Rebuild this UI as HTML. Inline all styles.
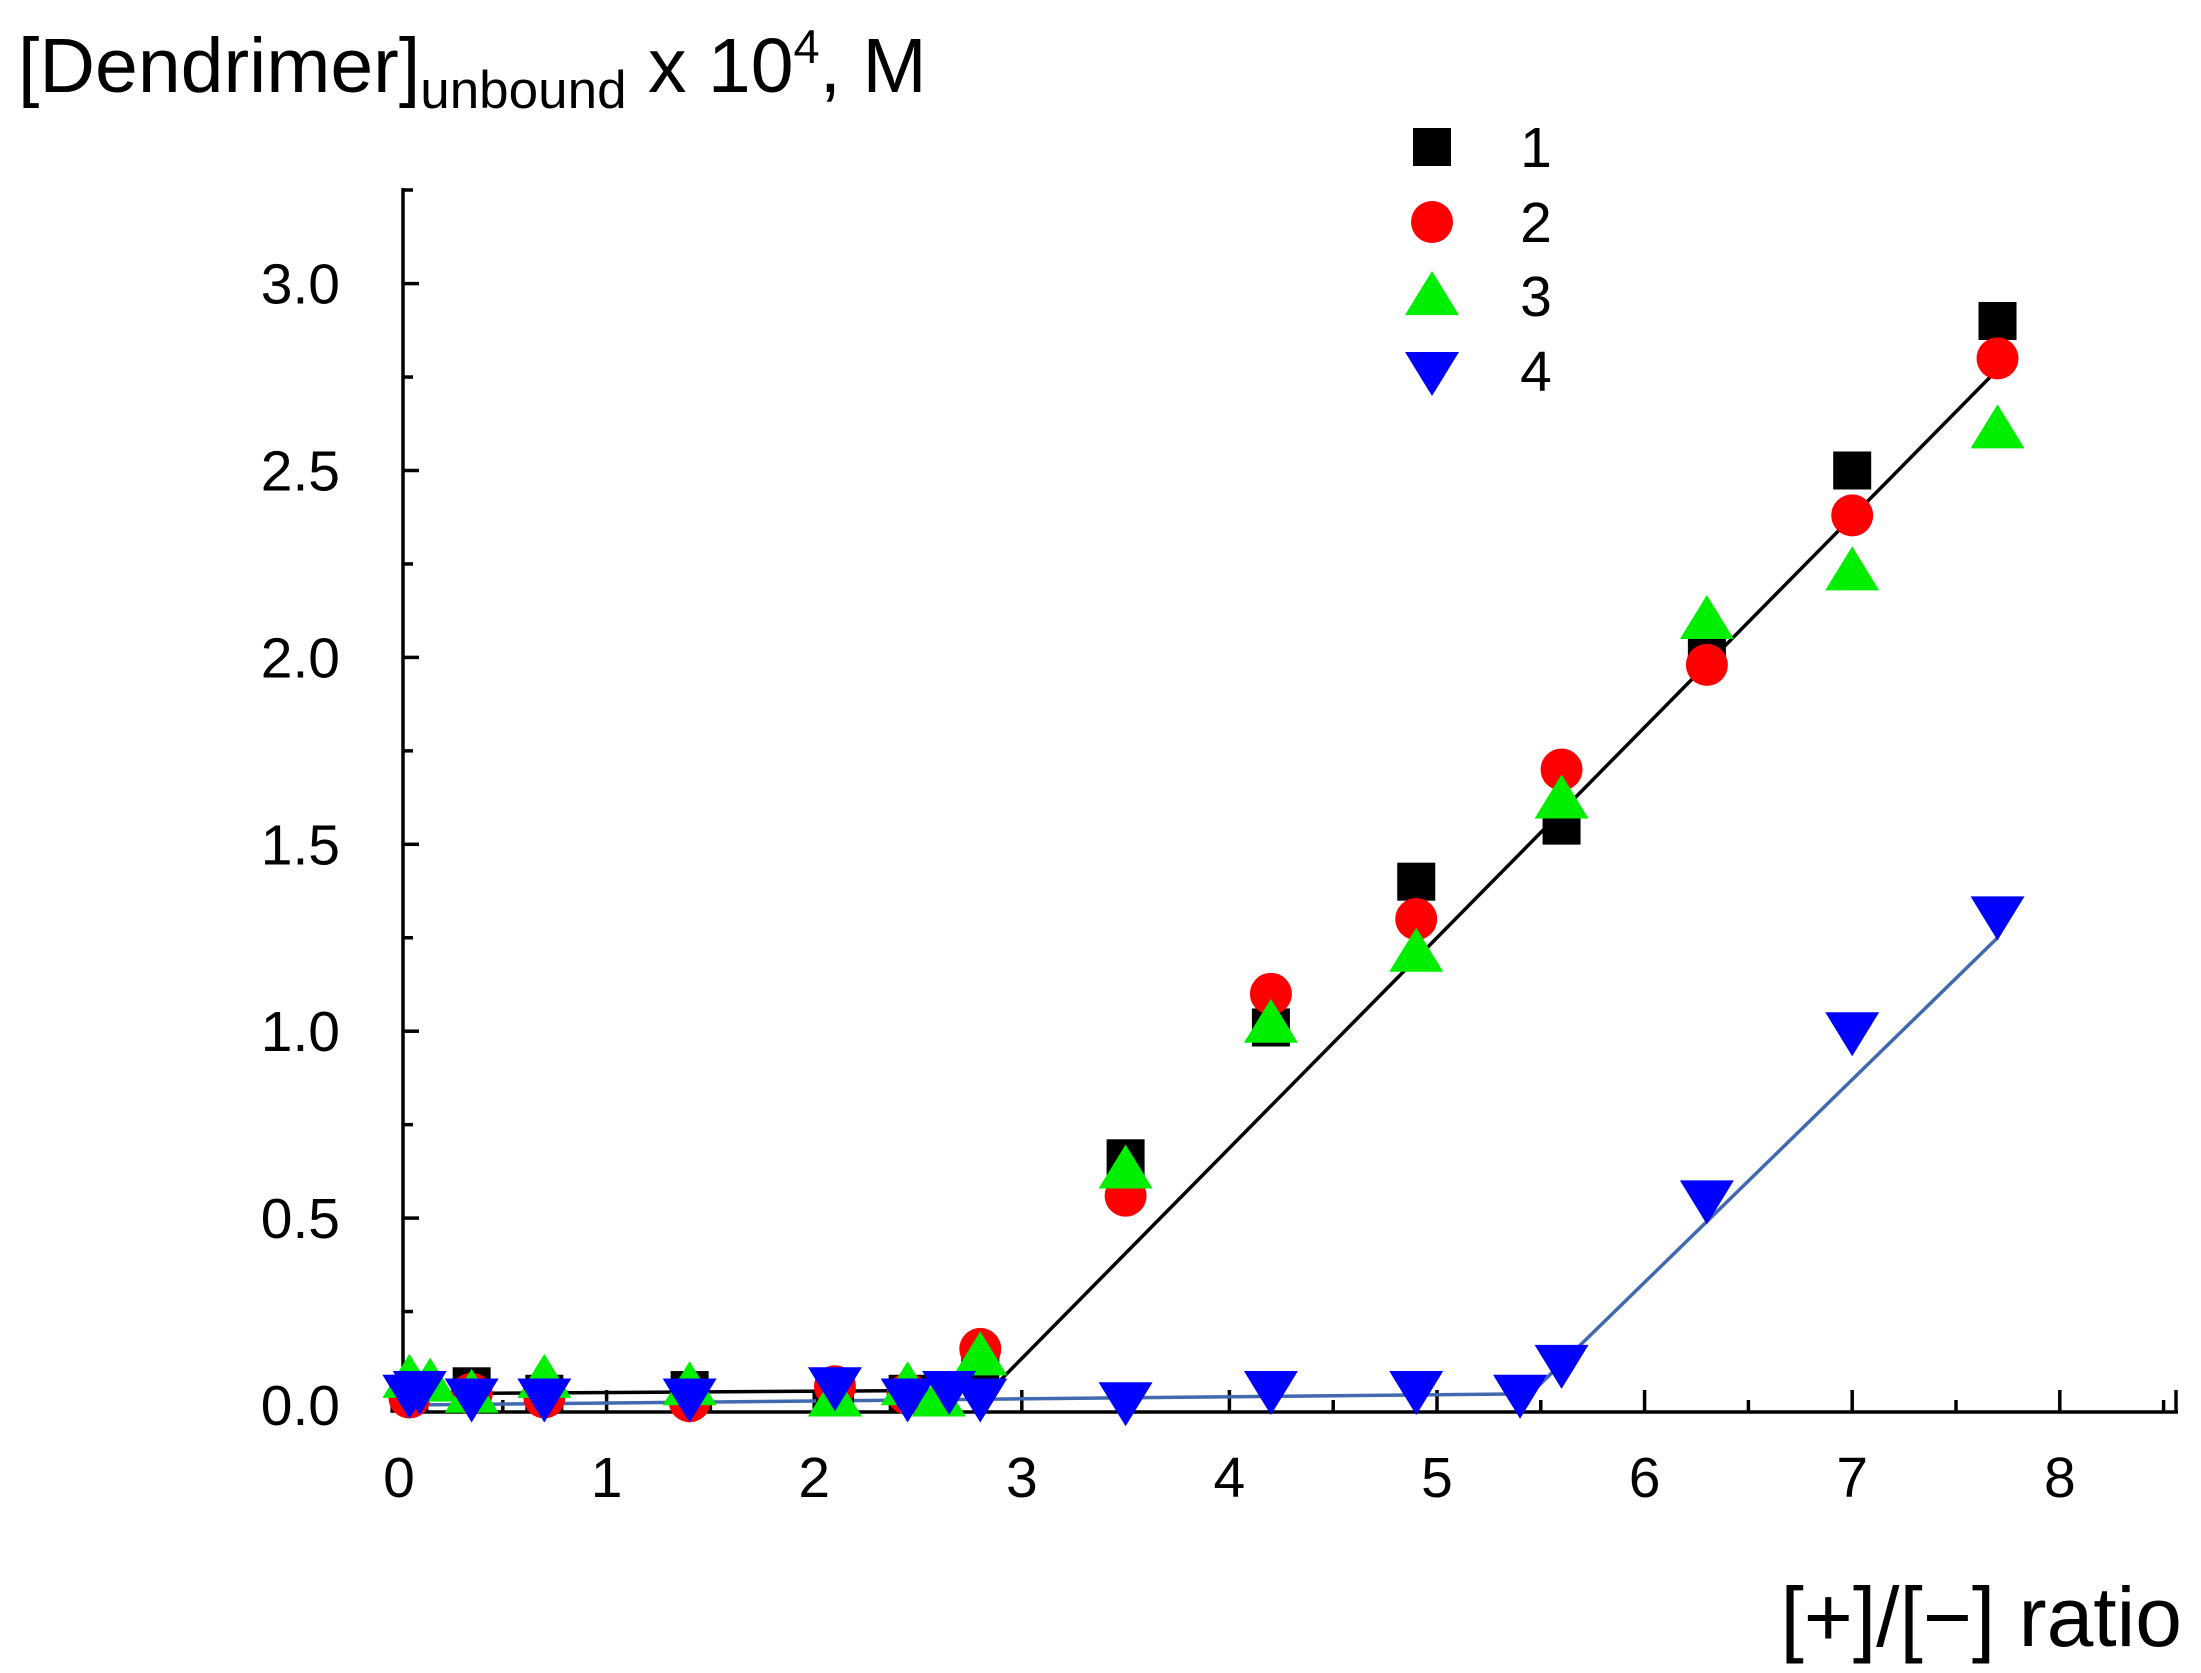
<!DOCTYPE html>
<html><head><meta charset="utf-8"><style>
html,body{margin:0;padding:0;background:#fff;}
svg text{font-family:"Liberation Sans",Arial,sans-serif;fill:#000;}
</style></head><body>
<svg id="s" width="2201" height="1668" viewBox="0 0 2201 1668" xmlns="http://www.w3.org/2000/svg">
<rect width="2201" height="1668" fill="#fff"/>
<text x="18" y="92" font-size="77">[Dendrimer]<tspan font-size="53" dy="16">unbound</tspan><tspan dy="-16"> x 10</tspan><tspan font-size="47" dy="-29">4</tspan><tspan dy="29">, M</tspan></text>
<text x="2182" y="1646" font-size="84" text-anchor="end">[+]/[−] ratio</text>
<g id="axes" stroke="#000" stroke-width="3.5" fill="none"></g>
<g id="lbl" font-size="57"></g>
<g id="dat"></g>
<g id="leg"></g>
</svg>
<script>
var NS="http://www.w3.org/2000/svg";
function X(x){return 399+207.6*x;}
function Y(y){return 1405-373.8*y;}
function el(tag,attrs,parent,txt){var e=document.createElementNS(NS,tag);for(var k in attrs)e.setAttribute(k,attrs[k]);if(txt!==undefined)e.textContent=txt;document.getElementById(parent).appendChild(e);return e;}
el('line',{x1:403,y1:188,x2:403,y2:1412},'axes');
el('line',{x1:401,y1:1412,x2:2178,y2:1412},'axes');
for(var i=0;i<=12;i++){var yy=Y(i*0.25);var L=(i%2==0)?16:10;el('line',{x1:403,y1:yy,x2:403+L,y2:yy},'axes');}
el('line',{x1:403,y1:190,x2:413,y2:190},'axes');
for(var i=0;i<=17;i++){var xx=X(i*0.5);var L=(i%2==0)?22:12;el('line',{x1:xx,y1:1412,x2:xx,y2:1412-L},'axes');}
el('line',{x1:2176,y1:1412,x2:2176,y2:1390},'axes');
for(var i=0;i<=6;i++){el('text',{x:340,y:Y(i*0.5)+20,'text-anchor':'end'},'lbl',(i*0.5).toFixed(1));}
for(var i=0;i<=8;i++){el('text',{x:X(i),y:1497,'text-anchor':'middle'},'lbl',String(i));}
el('polyline',{points:[X(0.05),Y(0.03),X(2.85),Y(0.04),X(7.7),Y(2.77)].join(' '),stroke:'#000','stroke-width':3.5,fill:'none'},'dat');
el('polyline',{points:[X(0.05),Y(0.0),X(5.45),Y(0.03),X(7.7),Y(1.25)].join(' '),stroke:'#4169b0','stroke-width':3.5,fill:'none'},'dat');
function sq(x,y,p){el('rect',{x:x-19,y:y-19,width:38,height:38,fill:'#000'},p);}
function ci(x,y,p){el('ellipse',{cx:x,cy:y,rx:21,ry:21,fill:'#ff0000'},p);}
function up(x,y,p){el('polygon',{points:(x-27)+','+(y+19)+' '+(x+27)+','+(y+19)+' '+x+','+(y-25),fill:'#00ee00'},p);}
function dn(x,y,p){el('polygon',{points:(x-27)+','+(y-19)+' '+(x+27)+','+(y-19)+' '+x+','+(y+25),fill:'#0000ff'},p);}
var s1=[[0.05,0.03],[0.35,0.05],[0.7,0.03],[1.4,0.04],[2.1,0.03],[2.45,0.03],[2.8,0.12],[3.5,0.66],[4.2,1.01],[4.9,1.40],[5.6,1.55],[6.3,2.03],[7.0,2.50],[7.7,2.90]];
var s2=[[0.05,0.02],[0.35,0.03],[0.7,0.02],[1.4,0.01],[2.1,0.05],[2.45,0.03],[2.8,0.15],[3.5,0.56],[4.2,1.10],[4.9,1.30],[5.6,1.70],[6.3,1.98],[7.0,2.38],[7.7,2.80]];
var s3=[[0.05,0.07],[0.15,0.06],[0.35,0.03],[0.7,0.07],[1.4,0.05],[2.1,0.02],[2.45,0.05],[2.6,0.02],[2.8,0.13],[3.5,0.63],[4.2,1.02],[4.9,1.21],[5.6,1.62],[6.3,2.10],[7.0,2.23],[7.7,2.61]];
var s4=[[0.05,0.03],[0.1,0.04],[0.35,0.02],[0.7,0.02],[1.4,0.02],[2.1,0.05],[2.45,0.02],[2.65,0.04],[2.8,0.02],[3.5,0.01],[4.2,0.04],[4.9,0.04],[5.4,0.03],[5.6,0.11],[6.3,0.55],[7.0,1.00],[7.7,1.31]];
s1.forEach(function(p){sq(X(p[0]),Y(p[1]),'dat');});
s2.forEach(function(p){ci(X(p[0]),Y(p[1]),'dat');});
s3.forEach(function(p){up(X(p[0]),Y(p[1]),'dat');});
s4.forEach(function(p){dn(X(p[0]),Y(p[1]),'dat');});
sq(1432,147,'leg');ci(1432,222,'leg');up(1432,296,'leg');dn(1432,371,'leg');
['1','2','3','4'].forEach(function(t,i){el('text',{x:1536,y:[147,222,296,371][i]+20,'font-size':57,'text-anchor':'middle'},'leg',t);});
</script>
</body></html>
